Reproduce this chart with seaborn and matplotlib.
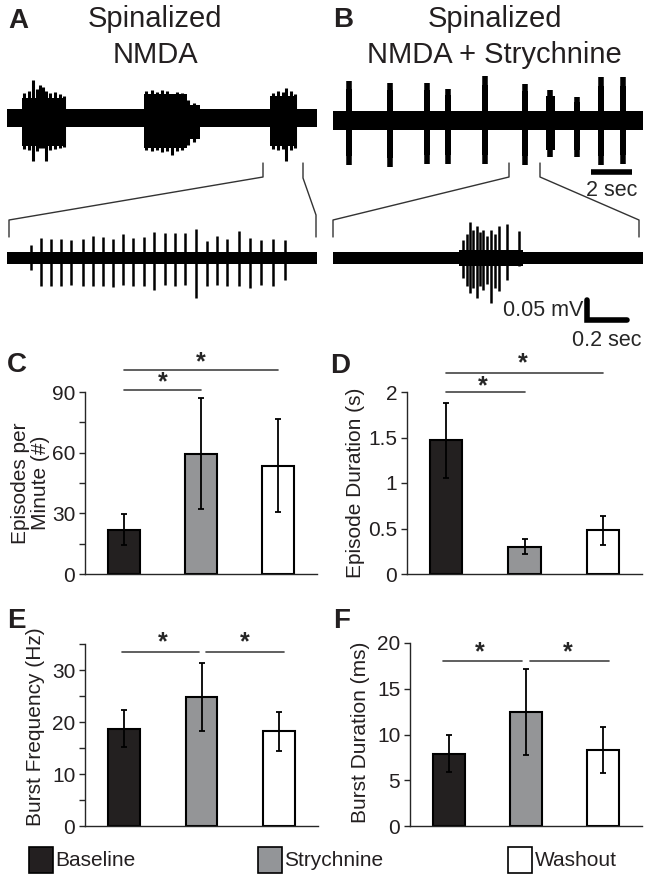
import numpy as np
import pandas as pd
import matplotlib
matplotlib.use('Agg')
import matplotlib.pyplot as plt
import seaborn as sns
from matplotlib.lines import Line2D
from matplotlib.patches import Rectangle

# ---- bar chart data (mean, sem) ----
conditions = ['Baseline', 'Strychnine', 'Washout']
bar_colors = ['#231f20', '#939598', '#ffffff']

episodes_mean = [22.0, 59.5, 53.5]
episodes_sem = [7.5, 27.5, 23.0]
ep_duration_mean = [1.47, 0.30, 0.48]
ep_duration_sem = [0.41, 0.08, 0.16]
burst_freq_mean = [18.7, 24.8, 18.2]
burst_freq_sem = [3.6, 6.6, 3.7]
burst_dur_mean = [7.9, 12.5, 8.3]
burst_dur_sem = [2.0, 4.7, 2.5]

# ---- traces (time in s, amplitude in arbitrary units) ----
# NMDA, slow time base: bursts as (start, end, up, down)
nmda_bursts = [(0.72, 2.88, 20, 28), (6.68, 8.77, 24, 30), (8.77, 9.41, 13, 21), (12.83, 14.13, 22, 28)]
nmda_spike_t = [0.85, 1.05, 1.25, 1.45, 1.61, 1.74, 1.90, 2.10, 2.35, 2.60, 2.80,
                6.80, 7.05, 7.30, 7.55, 7.80, 8.03, 8.30, 8.55, 8.85, 9.10,
                12.95, 13.20, 13.45, 13.61, 13.85, 14.05]
nmda_spike_up = [25, 27, 38, 29, 33, 31, 27, 25, 26, 24, 22,
                 27, 28, 26, 28, 27, 24, 26, 25, 18, 15,
                 25, 27, 26, 30, 27, 24]
nmda_spike_down = [31, 32, 43, 33, 30, 30, 43, 32, 31, 30, 29,
                   32, 33, 32, 34, 33, 37, 33, 32, 27, 24,
                   31, 32, 31, 43, 32, 30]

# NMDA zoomed burst
nmda_zoom_t = [0.12, 0.17, 0.22, 0.27, 0.32, 0.38, 0.43, 0.48, 0.53, 0.58, 0.63, 0.685, 0.735,
               0.79, 0.84, 0.89, 0.945, 1.00, 1.05, 1.10, 1.16, 1.215, 1.27, 1.33, 1.39]
nmda_zoom_up = [13, 20, 19, 19, 18, 19, 22, 21, 19, 24, 20, 21, 26,
                25, 25, 25, 29, 17, 22, 19, 27, 20, 18, 19, 18]
nmda_zoom_down = [12, 28, 28, 28, 27, 28, 28, 28, 29, 27, 28, 28, 32,
                  27, 28, 27, 40, 28, 27, 28, 28, 30, 27, 28, 22]

# NMDA + strychnine, slow time base: short episodes
stry_t = [0.78, 2.78, 4.59, 5.61, 7.41, 9.37, 10.59, 11.90, 13.07, 14.15]
stry_up = [40, 38, 38, 32, 45, 37, 31, 24, 44, 44]
stry_down = [44, 46, 43, 43, 43, 44, 36, 36, 44, 43]
stry_width = [0.32, 0.32, 0.32, 0.32, 0.32, 0.32, 0.45, 0.30, 0.32, 0.32]

# NMDA + strychnine zoomed episode
stry_zoom_body = (0.63, 0.95, 8, 8)
stry_zoom_t = [0.65, 0.67, 0.685, 0.70, 0.72, 0.735, 0.75, 0.77, 0.79, 0.81, 0.83, 0.87, 0.93]
stry_zoom_up = [18, 24, 36, 28, 32, 26, 28, 22, 28, 24, 32, 34, 27]
stry_zoom_down = [20, 28, 35, 30, 40, 28, 32, 26, 45, 30, 33, 22, 8]

W, H = 648, 877
sns.set_style('ticks')
plt.rcParams['font.family'] = ['Liberation Sans', 'DejaVu Sans']

fig = plt.figure(figsize=(W / 100, H / 100), dpi=100)


def box(x0, y0, x1, y1):
    return [x0 / W, 1 - y1 / H, (x1 - x0) / W, (y1 - y0) / H]


def ftext(x, y, s, **kw):
    fig.text(x / W, 1 - y / H, s, **kw)


def fline(xs, ys, **kw):
    fig.add_artist(Line2D([x / W for x in xs], [1 - y / H for y in ys],
                          transform=fig.transFigure, **kw))


def draw_trace(ax, T, band, bursts, sp_t, sp_up, sp_down, ylim, sp_lw=1.4):
    ax.fill_between([0, T], -band, band, color='black', lw=0)
    for s, e, u, d in bursts:
        ax.fill_between([s, e], -d, u, color='black', lw=0)
    ax.vlines(sp_t, [-d for d in sp_down], sp_up, color='black', lw=sp_lw)
    ax.set_xlim(0, T)
    ax.set_ylim(ylim)
    ax.axis('off')


# ---- traces ----
axA = fig.add_axes(box(7, 70, 317, 170))
draw_trace(axA, 15.12, 9, nmda_bursts, nmda_spike_t, nmda_spike_up, nmda_spike_down,
           (-52.5, 47.5), sp_lw=2.2)

axB = fig.add_axes(box(333, 70, 643, 170))
stry_boxes = [(t - w / 2, t + w / 2, u * 0.8, d * 0.8) for t, w, u, d in zip(stry_t, stry_width, stry_up, stry_down)]
draw_trace(axB, 15.12, 9.5, stry_boxes, stry_t, stry_up, stry_down, (-49.3, 50.7), sp_lw=4)
axB.plot([12.6, 14.6], [-51, -51], color='black', lw=4, solid_capstyle='butt', clip_on=False)
axB.text(13.6, -70, '2 sec', ha='center', va='center', fontsize=15.5)

axA2 = fig.add_axes(box(7, 215, 317, 305))
draw_trace(axA2, 1.55, 6, [], nmda_zoom_t, nmda_zoom_up, nmda_zoom_down, (-46.7, 43.3), sp_lw=1.8)

axB2 = fig.add_axes(box(333, 215, 643, 305))
draw_trace(axB2, 1.55, 6, [stry_zoom_body], stry_zoom_t, stry_zoom_up, stry_zoom_down, (-46.7, 43.3), sp_lw=1.8)
axB2.plot([1.27, 1.27, 1.47], [-42, -62, -62], color='black', lw=4, solid_joinstyle='miter', clip_on=False)
axB2.text(1.25, -52, '0.05 mV', ha='right', va='center', fontsize=15.5)
axB2.text(1.37, -82, '0.2 sec', ha='center', va='center', fontsize=15.5)

# zoom connector lines
con = dict(color='#333333', lw=1.0)
fline([263, 263, 9, 9], [163, 177, 220, 237], **con)
fline([303, 303, 316, 316], [163, 178, 215, 237], **con)
fline([509, 509, 333, 333], [163, 177, 220, 237], **con)
fline([540, 540, 639, 639], [163, 177, 220, 237], **con)

# titles and panel letters
ftext(155, 27, 'Spinalized', ha='center', va='baseline', fontsize=21, color='#231f20')
ftext(155, 63, 'NMDA', ha='center', va='baseline', fontsize=21, color='#231f20')
ftext(495, 27, 'Spinalized', ha='center', va='baseline', fontsize=21, color='#231f20')
ftext(494, 63, 'NMDA + Strychnine', ha='center', va='baseline', fontsize=21, color='#231f20')
for letter, x, y in [('A', 8, 28), ('B', 333, 27), ('C', 7, 372), ('D', 330, 373),
                     ('E', 7, 628), ('F', 333, 628)]:
    ftext(x, y, letter, ha='left', va='baseline', fontsize=20, fontweight='bold', color='#231f20')


# ---- bar panels ----
def bar_panel(rect, means, sems, ylim, ticks, ticklabels, ylabel, label_xy, sig):
    ax = fig.add_axes(rect)
    df = pd.DataFrame({'condition': conditions, 'value': means})
    sns.barplot(data=df, x='condition', y='value', hue='condition', palette=bar_colors,
                edgecolor='black', linewidth=1.5, width=0.41, errorbar=None,
                legend=False, ax=ax)
    ax.errorbar(range(3), means, yerr=sems, fmt='none', ecolor='black',
                elinewidth=1.3, capsize=2.2, capthick=1.3, zorder=5)
    ax.set_xlim(-0.5, 2.5)
    ax.set_ylim(ylim)
    ax.set_yticks(ticks)
    ax.set_yticklabels(ticklabels)
    ax.set_xticks([])
    ax.set_xlabel('')
    ax.set_ylabel(ylabel, fontsize=15, linespacing=1.05, color='#231f20')
    ax.yaxis.set_label_coords(*label_xy)
    sns.despine(ax=ax)
    ax.spines['left'].set_linewidth(1.0)
    ax.spines['bottom'].set_linewidth(1.0)
    ax.tick_params(axis='y', direction='out', length=4, width=1, labelsize=15, pad=3,
                   labelcolor='#231f20')
    for x0, x1, y_line, x_star, y_star in sig:
        ax.plot([x0, x1], [y_line, y_line], color='#444444', lw=1.2, clip_on=False)
        ax.text(x_star, y_star, '*', ha='center', va='center', fontsize=18,
                fontweight='bold', clip_on=False)
    return ax


bar_panel(box(85, 392, 317, 574), episodes_mean, episodes_sem, (0, 90),
          [0, 15, 30, 45, 60, 75, 90], ['0', '', '30', '', '60', '', '90'],
          'Episodes per\nMinute (#)', (-0.151, 0.5),
          [(0, 1, 91, 0.5, 94.9), (0, 2, 100.9, 1.0, 104.8)])

bar_panel(box(407, 392, 642, 574), ep_duration_mean, ep_duration_sem, (0, 2),
          [0, 0.5, 1, 1.5, 2], ['0', '0.5', '1', '1.5', '2'],
          'Episode Duration (s)', (-0.179, 0.5),
          [(0, 1, 2.0, 0.47, 2.06), (0, 2, 2.21, 0.98, 2.32)])

bar_panel(box(85, 644, 318, 826), burst_freq_mean, burst_freq_sem, (0, 35),
          [0, 5, 10, 15, 20, 25, 30, 35], ['0', '', '10', '', '20', '', '30', ''],
          'Burst Frequency (Hz)', (-0.172, 0.544),
          [(-0.03, 0.97, 33.5, 0.5, 35.4), (1.06, 2.06, 33.5, 1.56, 35.4)])

bar_panel(box(410, 643, 642, 826), burst_dur_mean, burst_dur_sem, (0, 20),
          [0, 5, 10, 15, 20], ['0', '5', '10', '15', '20'],
          'Burst Duration (ms)', (-0.172, 0.514),
          [(-0.07, 0.95, 18.0, 0.4, 19.0), (1.05, 2.07, 18.0, 1.54, 19.0)])

# ---- legend ----
for (x_sq, x_txt), name, col in zip([(29, 55), (258, 284), (508, 535)], conditions, bar_colors):
    fig.add_artist(Rectangle((x_sq / W, 1 - 873 / H), 24 / W, 26 / H, transform=fig.transFigure,
                             facecolor=col, edgecolor='black', lw=1.2))
    ftext(x_txt, 860, name, ha='left', va='center', fontsize=15, color='#231f20')

fig.savefig('out.png', dpi=100)
